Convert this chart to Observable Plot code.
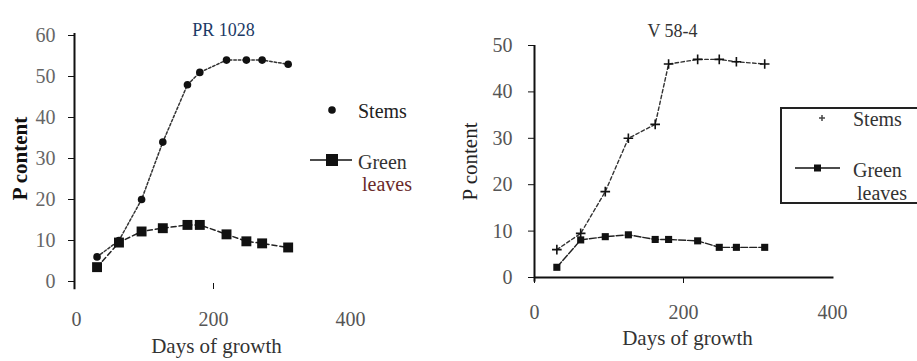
<!DOCTYPE html>
<html>
<head>
<meta charset="utf-8">
<script src="https://cdn.jsdelivr.net/npm/d3@7"></script>
<script src="https://cdn.jsdelivr.net/npm/@observablehq/plot@0.6"></script>
<style>
  html, body { margin: 0; padding: 0; background: #fff; }
  body { width: 917px; height: 361px; position: relative; overflow: hidden; font-family: "Liberation Serif", "DejaVu Serif", serif; color: #222; }
  .panel { position: absolute; top: 0; }
  .panel svg text { font-family: "Liberation Serif", serif; }
  .txt { position: absolute; white-space: nowrap; line-height: 1; }
  .lg { position: absolute; }
</style>
</head>
<body>
<div id="p1" class="panel" style="left:0px"></div>
<div id="p2" class="panel" style="left:460px"></div>
<script>
// ---- data ----
const days = [30, 62, 95, 126, 162, 180, 219, 248, 271, 309];
const prStems = [6, 10, 20, 34, 48, 51, 54, 54, 54, 53];
const prLeaves = [3.5, 9.5, 12.2, 13, 13.8, 13.8, 11.5, 9.8, 9.3, 8.3];
const vStems = [6, 9.5, 18.5, 30, 33, 46, 47, 47, 46.5, 46];
const vLeaves = [2.2, 8.1, 8.8, 9.2, 8.2, 8.2, 7.9, 6.5, 6.5, 6.5];
const xTicks = [0, 200, 400];
const prYTicks = [0, 10, 20, 30, 40, 50, 60];
const vYTicks = [0, 10, 20, 30, 40, 50];
const titles = ["PR 1028", "V 58-4"];
const xLabel = "Days of growth";
const yLabel = "P content";
const seriesNames = ["Stems", "Green", "leaves"];

const FF = "Liberation Serif, serif";
const rows = (ys) => days.map((d, i) => ({d, v: ys[i]}));
const font = {fontFamily: FF, fontSize: "20px", color: "#2a2a2a", background: "transparent", overflow: "visible"};

// ---- panel 1: PR 1028 ----
const p1 = Plot.plot({
  width: 460, height: 361,
  marginLeft: 76, marginRight: 110, marginTop: 35, marginBottom: 80,
  x: {domain: [0, 400]},
  y: {domain: [0, 60]},
  style: font,
  marks: [
    Plot.ruleX([0], {y1: -2, y2: 60.5, stroke: "#111", strokeWidth: 2, dx: -2}),
    Plot.axisY({ticks: prYTicks, tickSize: 6, tickPadding: 13, label: null, stroke: "#111", fill: "#666", dx: -2, fontFamily: FF}),
    Plot.axisX({ticks: [200], tickSize: 6, tickFormat: () => "", label: null, stroke: "#111", dy: 2}),
    Plot.axisX({ticks: xTicks, tickSize: 0, tickPadding: 30, label: null, fill: "#555", fontFamily: FF}),
    Plot.text([titles[0]], {frameAnchor: "top", dx: 10, dy: -12, text: d => d, fill: "#1c3a66", fontSize: 18, fontFamily: FF}),
    Plot.text([yLabel], {frameAnchor: "left", dx: -56, rotate: -90, textAnchor: "middle", text: d => d, fill: "#111", fontSize: 21, fontWeight: "bold", fontFamily: FF}),
    Plot.text([xLabel], {frameAnchor: "bottom", dx: 3, dy: 71, text: d => d, fill: "#333", fontSize: 21, fontFamily: FF}),
    Plot.line(rows(prStems), {x: "d", y: "v", stroke: "#333", strokeWidth: 1.5, strokeDasharray: "2.5,2"}),
    Plot.dot(rows(prStems), {x: "d", y: "v", r: 3.8, fill: "#111", stroke: "none"}),
    Plot.line(rows(prLeaves), {x: "d", y: "v", stroke: "#222", strokeWidth: 1.5, strokeDasharray: "5,3"}),
    Plot.dot(rows(prLeaves), {x: "d", y: "v", symbol: "square", r: 5.6, fill: "#111", stroke: "none"})
  ]
});
document.getElementById("p1").appendChild(p1);

// ---- panel 2: V 58-4 ----
const p2 = Plot.plot({
  width: 457, height: 361,
  marginLeft: 74, marginRight: 85, marginTop: 45, marginBottom: 84,
  x: {domain: [0, 400]},
  y: {domain: [0, 50]},
  style: font,
  marks: [
    Plot.ruleX([0], {y1: -1, y2: 50, stroke: "#111", strokeWidth: 2}),
    Plot.ruleY([0], {x1: 0, x2: 402, stroke: "#111", strokeWidth: 2}),
    Plot.axisY({ticks: vYTicks, tickSize: 6, tickPadding: 16, label: null, stroke: "#111", fill: "#555", fontFamily: FF}),
    Plot.axisX({ticks: [0, 200], tickSize: 6, tickFormat: () => "", label: null, stroke: "#111"}),
    Plot.axisX({ticks: xTicks, tickSize: 0, tickPadding: 27, label: null, fill: "#555", fontFamily: FF}),
    Plot.text([titles[1]], {frameAnchor: "top", dx: -11, dy: -21, text: d => d, fill: "#333", fontSize: 18, fontFamily: FF}),
    Plot.text([yLabel], {frameAnchor: "left", dx: -64, rotate: -90, textAnchor: "middle", text: d => d, fill: "#222", fontSize: 21, fontFamily: FF}),
    Plot.text([xLabel], {frameAnchor: "bottom", dx: 4, dy: 67, text: d => d, fill: "#333", fontSize: 21, fontFamily: FF}),
    Plot.line(rows(vStems), {x: "d", y: "v", stroke: "#333", strokeWidth: 1.4, strokeDasharray: "3.5,2.5"}),
    Plot.dot(rows(vStems), {x: "d", y: "v", symbol: "plus", r: 3.2, stroke: "#111", strokeWidth: 1.6}),
    Plot.line(rows(vLeaves), {x: "d", y: "v", stroke: "#222", strokeWidth: 1.4, strokeDasharray: "7,2"}),
    Plot.dot(rows(vLeaves), {x: "d", y: "v", symbol: "square", r: 4, fill: "#111", stroke: "none"})
  ]
});
document.getElementById("p2").appendChild(p2);

// ---- legends ----
// Left legend (no frame)
document.body.insertAdjacentHTML("beforeend", `
  <svg class="lg" style="left:300px;top:95px" width="70" height="80">
    <circle cx="32" cy="15" r="3.8" fill="#111"/>
    <line x1="10" y1="65" x2="52" y2="65" stroke="#111" stroke-width="1.5"/>
    <rect x="26" y="59" width="12" height="12" fill="#111"/>
  </svg>
  <div class="txt" style="left:358px;top:101px;font-size:20px;color:#222">${seriesNames[0]}</div>
  <div class="txt" style="left:358px;top:152px;font-size:20px;color:#333">${seriesNames[1]}</div>
  <div class="txt" style="left:362px;top:174px;font-size:20px;color:#6a2a2a">${seriesNames[2]}</div>
`);
// Right legend (framed, clipped by page edge)
document.body.insertAdjacentHTML("beforeend", `
  <div class="lg" style="left:780px;top:107px;width:150px;height:97px;border:2px solid #222;box-sizing:border-box;"></div>
  <svg class="lg" style="left:790px;top:105px" width="60" height="80">
    <line x1="29" y1="13" x2="35" y2="13" stroke="#444" stroke-width="1.5"/>
    <line x1="32" y1="10" x2="32" y2="16" stroke="#444" stroke-width="1.5"/>
    <line x1="5" y1="63" x2="50" y2="63" stroke="#111" stroke-width="1.5"/>
    <rect x="24" y="59.5" width="7" height="7" fill="#111"/>
  </svg>
  <div class="txt" style="left:853px;top:109px;font-size:20px;color:#333">${seriesNames[0]}</div>
  <div class="txt" style="left:853px;top:160px;font-size:20px;color:#333">${seriesNames[1]}</div>
  <div class="txt" style="left:857px;top:183px;font-size:20px;color:#333">${seriesNames[2]}</div>
`);
</script>
</body>
</html>
